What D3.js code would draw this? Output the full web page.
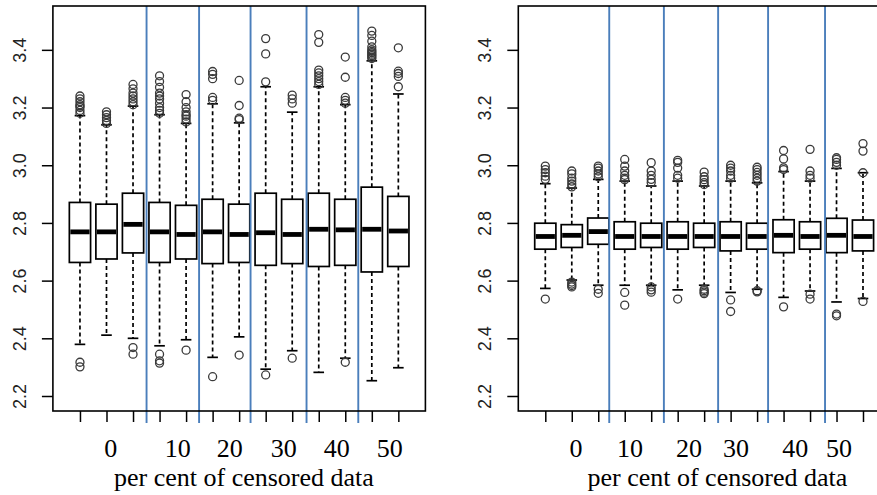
<!DOCTYPE html>
<html>
<head>
<meta charset="utf-8">
<script src="https://cdn.jsdelivr.net/npm/d3@7"></script>
<style>
  body { margin: 0; background: #fff; }
</style>
</head>
<body>
<div id="chart"></div>
<script>
// ---- data ----
const yTicks = [2.2, 2.4, 2.6, 2.8, 3.0, 3.2, 3.4];
const xLabels = ['0', '10', '20', '30', '40', '50'];

// left panel
const leftLow  = [2.379, 2.411, 2.400, 2.374, 2.395, 2.334, 2.405, 2.293, 2.357, 2.282, 2.331, 2.253, 2.298];
const leftQ1   = [2.663, 2.675, 2.696, 2.663, 2.675, 2.659, 2.663, 2.653, 2.659, 2.649, 2.653, 2.630, 2.649];
const leftMed  = [2.769, 2.769, 2.795, 2.769, 2.760, 2.769, 2.760, 2.766, 2.760, 2.778, 2.776, 2.778, 2.772];
const leftQ3   = [2.871, 2.865, 2.903, 2.871, 2.861, 2.882, 2.865, 2.903, 2.882, 2.903, 2.882, 2.924, 2.892];
const leftHigh = [3.172, 3.140, 3.205, 3.175, 3.145, 3.213, 3.147, 3.272, 3.184, 3.272, 3.210, 3.362, 3.247];
const leftOut  = [
  [3.18, 3.19, 3.20, 3.205, 3.21, 3.22, 3.23, 3.24, 2.317, 2.301],
  [3.145, 3.155, 3.165, 3.175, 3.185],
  [3.21, 3.22, 3.23, 3.24, 3.25, 3.265, 3.28, 2.368, 2.345],
  [3.18, 3.19, 3.20, 3.215, 3.23, 3.24, 3.25, 3.27, 3.29, 3.31, 2.345, 2.322, 2.314],
  [3.15, 3.16, 3.17, 3.175, 3.185, 3.20, 3.22, 3.245, 2.359],
  [3.225, 3.235, 3.30, 3.315, 3.325, 2.267],
  [3.158, 3.163, 3.207, 3.294, 2.342],
  [3.289, 3.386, 3.439, 2.273],
  [3.215, 3.23, 3.243, 2.331],
  [3.28, 3.29, 3.30, 3.31, 3.32, 3.33, 3.426, 3.453],
  [3.215, 3.225, 3.235, 3.305, 3.375, 2.317],
  [3.37, 3.375, 3.38, 3.385, 3.39, 3.395, 3.40, 3.41, 3.43, 3.45, 3.465],
  [3.272, 3.308, 3.318, 3.326, 3.407]
];
const leftDividers = [3.51, 5.49, 7.43, 9.54, 11.49];
const leftLabelPos = [2.16, 4.69, 6.65, 8.68, 10.68, 12.68];
const leftTitlePos = 7.18;

// right panel
const rightLow  = [2.573, 2.602, 2.584, 2.584, 2.584, 2.568, 2.584, 2.559, 2.570, 2.542, 2.564, 2.526, 2.538];
const rightQ1   = [2.709, 2.715, 2.726, 2.709, 2.715, 2.709, 2.715, 2.703, 2.709, 2.697, 2.709, 2.697, 2.703];
const rightMed  = [2.753, 2.757, 2.770, 2.753, 2.753, 2.753, 2.753, 2.753, 2.753, 2.757, 2.753, 2.757, 2.753];
const rightQ3   = [2.799, 2.794, 2.817, 2.804, 2.799, 2.804, 2.799, 2.804, 2.799, 2.811, 2.804, 2.816, 2.810];
const rightHigh = [2.936, 2.921, 2.951, 2.945, 2.928, 2.945, 2.928, 2.945, 2.939, 2.978, 2.945, 2.989, 2.974];
const rightOut  = [
  [2.951, 2.962, 2.974, 2.985, 2.997, 2.536],
  [2.925, 2.935, 2.945, 2.955, 2.97, 2.98, 2.578, 2.583, 2.588, 2.595],
  [2.96, 2.97, 2.98, 2.99, 2.997, 2.570, 2.556],
  [2.95, 2.955, 2.965, 2.98, 2.997, 3.020, 2.559, 2.515],
  [2.94, 2.951, 2.965, 2.98, 3.009, 2.578, 2.568, 2.56],
  [2.955, 2.965, 2.99, 3.01, 3.017, 2.536],
  [2.933, 2.94, 2.95, 2.96, 2.976, 2.555, 2.56, 2.565, 2.57],
  [2.955, 2.965, 2.98, 2.99, 3.00, 2.533, 2.493],
  [2.945, 2.955, 2.965, 2.975, 2.985, 2.993, 2.561, 2.565],
  [2.985, 2.991, 3.022, 3.051, 2.509],
  [2.955, 2.965, 2.98, 3.055, 2.553, 2.536],
  [3.0, 3.01, 3.02, 3.026, 2.484, 2.478],
  [2.974, 3.049, 3.075, 2.528]
];
const rightDividers = [3.415, 5.479, 7.528, 9.415, 11.566];
const rightLabelPos = [2.16, 4.20, 6.43, 8.20, 10.44, 12.09];
const rightTitlePos = 7.50;

// ---- layout ----
const W = 877, H = 495;
const frameTop = 6, frameBottom = 411;
const tickLen = 11;
const serifFont = 'Liberation Serif';
const sansFont = 'Liberation Sans';

const svg = d3.select('#chart').append('svg')
  .attr('width', W)
  .attr('height', H)
  .style('display', 'block');

// R-style ylim c(2.2, 3.5) with 4% extension
const y = d3.scaleLinear()
  .domain([2.2 - 0.052, 3.5 + 0.052])
  .range([frameBottom, frameTop]);

function drawPanel(p) {
  // boxes 1..13, xlim 0.5..13.5 extended by 4%
  const x = d3.scaleLinear().domain([-0.02, 14.02]).range([p.left, p.right]);
  const g = svg.append('g');
  const idx = d3.range(13);
  const half = 0.4, staple = 0.2;

  // whiskers (dashed)
  g.selectAll('.wh-up').data(idx).enter().append('line')
    .attr('x1', i => x(i + 1)).attr('x2', i => x(i + 1))
    .attr('y1', i => y(p.q3[i])).attr('y2', i => y(p.high[i]))
    .attr('stroke', '#000').attr('stroke-width', 1.7).attr('stroke-dasharray', '4,3');
  g.selectAll('.wh-lo').data(idx).enter().append('line')
    .attr('x1', i => x(i + 1)).attr('x2', i => x(i + 1))
    .attr('y1', i => y(p.q1[i])).attr('y2', i => y(p.low[i]))
    .attr('stroke', '#000').attr('stroke-width', 1.7).attr('stroke-dasharray', '4,3');

  // staples
  [p.high, p.low].forEach(vals => {
    g.selectAll(null).data(idx).enter().append('line')
      .attr('x1', i => x(i + 1 - staple)).attr('x2', i => x(i + 1 + staple))
      .attr('y1', i => y(vals[i])).attr('y2', i => y(vals[i]))
      .attr('stroke', '#000').attr('stroke-width', 1.7);
  });

  // boxes
  g.selectAll('.box').data(idx).enter().append('rect')
    .attr('x', i => x(i + 1 - half))
    .attr('width', i => x(i + 1 + half) - x(i + 1 - half))
    .attr('y', i => y(p.q3[i]))
    .attr('height', i => y(p.q1[i]) - y(p.q3[i]))
    .attr('fill', '#fff').attr('stroke', '#000').attr('stroke-width', 1.7);

  // medians
  g.selectAll('.med').data(idx).enter().append('line')
    .attr('x1', i => x(i + 1 - half) + 1).attr('x2', i => x(i + 1 + half) - 1)
    .attr('y1', i => y(p.med[i])).attr('y2', i => y(p.med[i]))
    .attr('stroke', '#000').attr('stroke-width', 4.8);

  // outliers
  const pts = [];
  p.out.forEach((vals, i) => vals.forEach(v => pts.push({ i: i, v: v })));
  g.selectAll('.out').data(pts).enter().append('circle')
    .attr('cx', d => x(d.i + 1)).attr('cy', d => y(d.v))
    .attr('r', 4)
    .attr('fill', 'none').attr('stroke', '#3a3a3a').attr('stroke-width', 1.3);

  // blue separators
  g.selectAll('.div').data(p.dividers).enter().append('line')
    .attr('x1', d => x(d)).attr('x2', d => x(d))
    .attr('y1', frameTop).attr('y2', frameBottom + tickLen + 1)
    .attr('stroke', '#4a7ebb').attr('stroke-width', 1.9);

  // frame
  g.append('rect')
    .attr('x', p.left).attr('y', frameTop)
    .attr('width', p.right - p.left).attr('height', frameBottom - frameTop)
    .attr('fill', 'none').attr('stroke', '#000').attr('stroke-width', 1.6);

  // y axis
  const ya = g.append('g')
    .attr('transform', `translate(${p.left},0)`)
    .call(d3.axisLeft(y).tickValues(yTicks).tickSize(tickLen).tickFormat(d3.format('.1f')));
  ya.select('.domain').remove();
  ya.selectAll('line').attr('stroke', '#000').attr('stroke-width', 1.5);
  ya.selectAll('text')
    .attr('x', 0).attr('dy', 0)
    .attr('transform', `translate(${-27},0) rotate(-90)`)
    .attr('text-anchor', 'middle')
    .attr('font-family', sansFont)
    .style('font-family', sansFont).style('font-size', '18px').attr('fill', '#222');

  // x axis (ticks only)
  const xa = g.append('g')
    .attr('transform', `translate(0,${frameBottom})`)
    .call(d3.axisBottom(x).tickValues(d3.range(1, 14)).tickSize(tickLen).tickFormat(''));
  xa.select('.domain').remove();
  xa.selectAll('line').attr('stroke', '#000').attr('stroke-width', 1.5);

  // group labels
  g.selectAll('.xl').data(xLabels).enter().append('text')
    .attr('x', (d, i) => x(p.labelPos[i]))
    .attr('y', 457)
    .attr('text-anchor', 'middle')
    .attr('font-family', serifFont)
    .style('font-family', serifFont).style('font-size', '26px')
    .text(d => d);

  g.append('text')
    .attr('x', x(p.titlePos)).attr('y', 486)
    .attr('text-anchor', 'middle')
    .attr('font-family', serifFont)
    .style('font-family', serifFont).style('font-size', '26px')
    .text('per cent of censored data');
}

drawPanel({
  left: 52.9, right: 425.4,
  low: leftLow, q1: leftQ1, med: leftMed, q3: leftQ3, high: leftHigh, out: leftOut,
  dividers: leftDividers, labelPos: leftLabelPos, titlePos: leftTitlePos
});
drawPanel({
  left: 518.3, right: 890,
  low: rightLow, q1: rightQ1, med: rightMed, q3: rightQ3, high: rightHigh, out: rightOut,
  dividers: rightDividers, labelPos: rightLabelPos, titlePos: rightTitlePos
});
</script>
</body>
</html>
